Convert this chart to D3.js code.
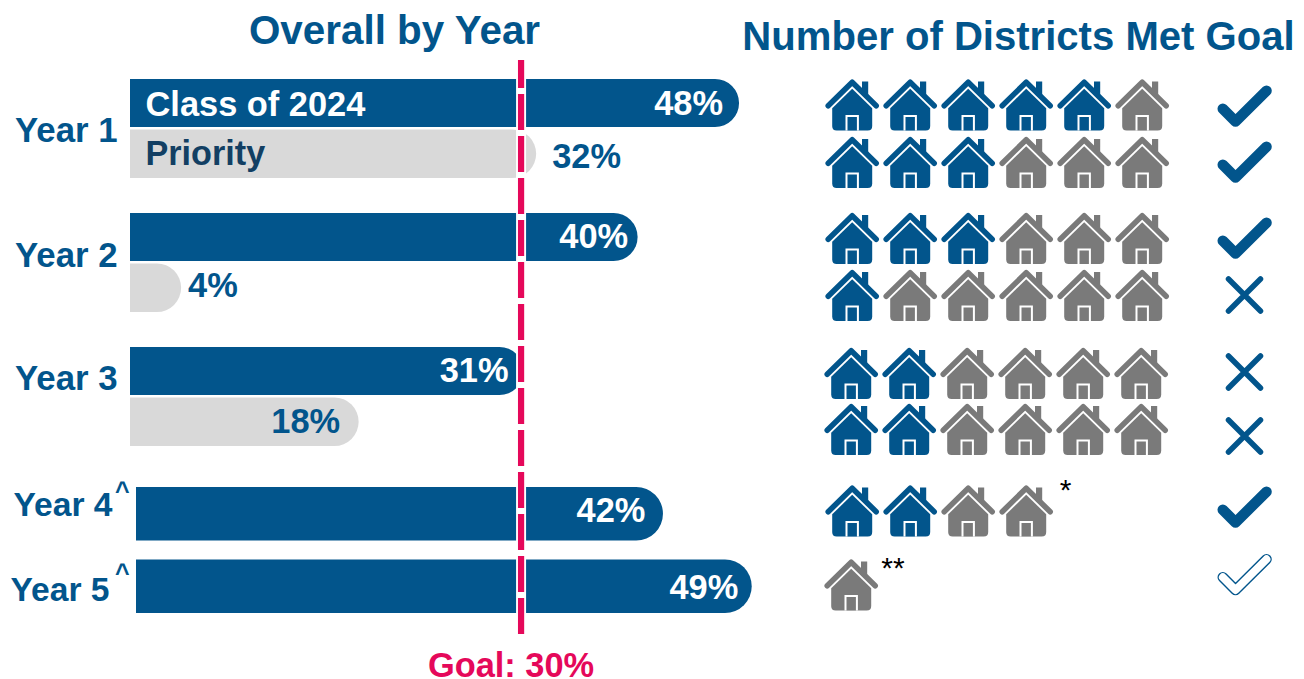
<!DOCTYPE html>
<html><head><meta charset="utf-8">
<script src="https://cdn.jsdelivr.net/npm/d3@7"></script>
<style>html,body{margin:0;background:#fff}svg{display:block}text{font-family:"Liberation Sans",Arial,sans-serif;font-weight:700}text.note{font-weight:400}</style>
</head><body><svg id="c" width="1304" height="679"></svg>
<script>
// ---- data
const years = ["Year 1","Year 2","Year 3","Year 4","Year 5"];
const carets = [false,false,false,true,true];
const rowYear = [0,0,1,1,2,2,3,4];
const rowGroup = ["Class of 2024","Priority","Class of 2024","Priority","Class of 2024","Priority","Class of 2024","Class of 2024"];
const rowValues = [48,32,40,4,31,18,42,49];
const districtsMet = [5,3,3,1,2,2,2,0];
const districtsTotal = [6,6,6,6,6,6,4,1];
const goalStatus = ["met","met","met","miss","miss","miss","met","open"];
const houseNotes = ["","","","","","","*","**"];
const goalText = "Goal: 30%";
const titleLeft = "Overall by Year";
const titleRight = "Number of Districts Met Goal";
// ---- layout
const navy="#02558C", grey="#D9D9D9", pink="#E5085A", houseGrey="#7A7A7A", dark="#123F63";
const svg=d3.select("#c");
const x=d3.scaleLinear().domain([0,100]).range([130.4,1398.4]);
const goalDrawnAt=30.81;              // the drawn line sits slightly right of the 30 position in the source
const barTop=[79,129.5,213,263.5,347,397.5,487,559.5];
const barH=[48,48.5,48,48.5,48,48.5,53.5,53.5];
const barStart=[130,130,130,130,130,130,136,136];
const labelGap=[16,-16,9.5,-7,15,18.5,17.5,13.5];
const labelBase=[115,168,248,297,382,433,522,599];
const houseStep=58;
const houseX=d3.scaleLinear().domain([0,1]).range([825.5,825.5+houseStep]);
const houseTop=[79.5,137,213,270,348,404,485.5,559.5];
const houseLeft=[0,0,0,0,-1,-1,0,-1];
const markCy=[110.5,166.5,242.5,295,372,436,511.5,579];
const yearBase=[142,267,390,515.5,601];
const yearSize=[34.8,34.8,34.8,33.6,33.6];
const yearLabelX=[15,15,15,13.5,10.5];
const caretX=[115,115], caretY=[499.5,581.5];
const noteX={6:1065.5,7:893}, noteY={6:500,7:578};

// titles
svg.append("text").attr("x",394.5).attr("y",43.5).attr("text-anchor","middle").attr("font-size",40.4).attr("fill",navy).text(titleLeft);
svg.append("text").attr("x",1018.5).attr("y",49.5).attr("text-anchor","middle").attr("font-size",40.1).attr("fill",navy).text(titleRight);

// bars
const idx=d3.range(rowValues.length);
const barPath=i=>{
  const x0=barStart[i],x1=x(rowValues[i]),y=barTop[i],h=barH[i],r=h/2;
  const p=d3.path();p.moveTo(x0,y);p.lineTo(x1-r,y);p.arc(x1-r,y+r,r,-Math.PI/2,Math.PI/2);p.lineTo(x0,y+h);p.closePath();return p.toString();
};
svg.append("g").selectAll("path").data(idx).join("path").attr("d",barPath)
  .attr("fill",i=>rowGroup[i]==="Priority"?grey:navy);

// goal line
const gx=x(goalDrawnAt);
svg.append("line").attr("x1",gx).attr("x2",gx).attr("y1",60).attr("y2",635).attr("stroke","#fff").attr("stroke-width",10);
svg.append("line").attr("x1",gx).attr("x2",gx).attr("y1",60).attr("y2",635).attr("stroke",pink).attr("stroke-width",6.2)
  .attr("stroke-dasharray","36 6").attr("stroke-dashoffset",8);
svg.append("text").attr("x",gx-10).attr("y",676.5).attr("text-anchor","middle").attr("font-size",34.4).attr("fill",pink).text(goalText);

// group legend labels inside first bars
svg.append("text").attr("x",145.5).attr("y",115.5).attr("font-size",34.4).attr("fill","#fff").text(rowGroup[0]);
svg.append("text").attr("x",145.5).attr("y",165).attr("font-size",34.2).attr("fill",dark).text(rowGroup[1]);

// year labels
svg.append("g").selectAll("text").data(years).join("text").attr("x",(d,i)=>yearLabelX[i]).attr("y",(d,i)=>yearBase[i])
  .attr("font-size",(d,i)=>yearSize[i]).attr("fill",navy).text(d=>d);
svg.append("g").selectAll("text").data(years.filter((d,i)=>carets[i])).join("text")
  .attr("x",(d,i)=>caretX[i]).attr("y",(d,i)=>caretY[i]).attr("font-size",25).attr("fill",navy).text("^");

// value labels
svg.append("g").selectAll("text").data(idx).join("text")
  .attr("x",i=>x(rowValues[i])-labelGap[i])
  .attr("y",i=>labelBase[i])
  .attr("text-anchor",i=>labelGap[i]<0?"start":"end")
  .attr("font-size",34.4)
  .attr("fill",i=>(rowGroup[i]==="Priority")?navy:"#fff")
  .text(i=>rowValues[i]+"%");

// houses
const houses=idx.flatMap(i=>d3.range(districtsTotal[i]).map(k=>({i,k,on:k<districtsMet[i]})));
const hg=svg.append("g").selectAll("g").data(houses).join("g")
  .attr("transform",d=>`translate(${houseX(d.k)+houseLeft[d.i]},${houseTop[d.i]})`)
  .attr("color",d=>d.on?navy:houseGrey);
hg.append("path").attr("fill","none").attr("stroke","currentColor").attr("stroke-width",5.5).attr("stroke-linecap","round").attr("stroke-linejoin","round")
  .attr("d","M2.7,26.3L26.7,2.7L50.7,26.3");
hg.append("path").attr("fill","currentColor").attr("d","M36.5,2H42.7V16L36.5,10Z");
hg.append("path").attr("fill","currentColor").attr("d","M26.7,9.2L46.7,28.8V46.5Q46.7,51 42.2,51H11.2Q6.7,51 6.7,46.5V28.8Z");
hg.append("rect").attr("fill","#fff").attr("x",20).attr("y",35.5).attr("width",13.4).attr("height",15.5);
hg.append("rect").attr("fill","currentColor").attr("x",22).attr("y",37.5).attr("width",9.4).attr("height",13.5);

// notes
svg.append("g").selectAll("text").data(idx.filter(i=>houseNotes[i])).join("text").attr("class","note")
  .attr("x",i=>noteX[i]).attr("y",i=>noteY[i]).attr("text-anchor","middle").attr("font-size",30).attr("fill","#000").text(i=>houseNotes[i]);

// status marks
const checkD="M-21.7,-1.8L-9,11L22,-19.8";
const markG=svg.append("g").selectAll("g").data(idx).join("g").attr("transform",i=>`translate(1244.5,${markCy[i]})`);
markG.filter(i=>goalStatus[i]!=="miss").append("path").attr("d",checkD).attr("fill","none").attr("stroke",navy).attr("stroke-width",10.6).attr("stroke-linecap","round").attr("stroke-linejoin","round");
markG.filter(i=>goalStatus[i]==="open").append("path").attr("d",checkD).attr("fill","none").attr("stroke","#fff").attr("stroke-width",7.8).attr("stroke-linecap","round").attr("stroke-linejoin","round");
markG.filter(i=>goalStatus[i]==="miss").append("path").attr("d","M-16,-16L16,16M16,-16L-16,16").attr("fill","none").attr("stroke",navy).attr("stroke-width",5.5).attr("stroke-linecap","round");
</script></body></html>
